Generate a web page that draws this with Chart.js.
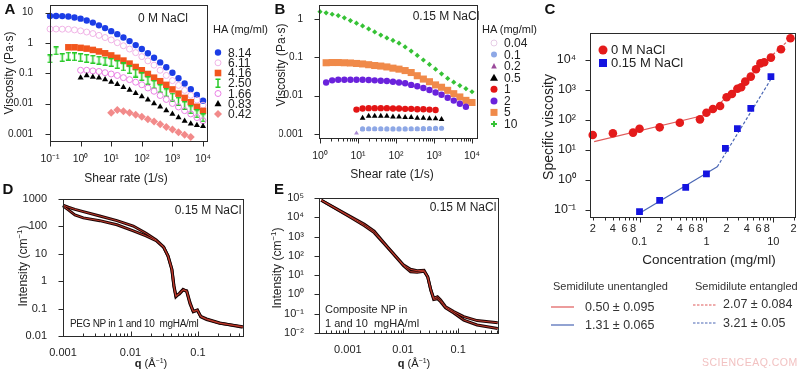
<!DOCTYPE html>
<html>
<head>
<meta charset="utf-8">
<script src="https://cdn.jsdelivr.net/npm/chart.js@4.4.1/dist/chart.umd.min.js"></script>
<style>
  html, body { margin: 0; padding: 0; background: #fff; }
  #page { position: relative; width: 800px; height: 371px; overflow: hidden;
          font-family: "Liberation Sans", Arial, sans-serif; color: #222; }
  #page canvas { position: absolute; left: 0; top: 0; }
  #page svg { position: absolute; left: 0; top: 0; }
  .t { position: absolute; white-space: nowrap; transform: translate(-50%, -50%); }
  .l { position: absolute; white-space: nowrap; transform: translate(0, -50%); }
  .v { position: absolute; white-space: nowrap; transform: translate(-50%, -50%) rotate(-90deg); }
  .lab { font-weight: bold; font-size: 15px; color: #111; }
  .f12 { font-size: 12px; }
  .leg { font-size: 12px; }
  .note { font-size: 11px; color: #333; }
</style>
</head>
<body>
<div id="page">
  <canvas id="chartA" width="800" height="371"></canvas>
  <canvas id="chartB" width="800" height="371"></canvas>
  <canvas id="chartC" width="800" height="371"></canvas>
  <canvas id="chartD" width="800" height="371"></canvas>
  <canvas id="chartE" width="800" height="371"></canvas>

  <svg width="800" height="371">
    <!-- legend A -->
    <circle cx="218" cy="52.5" r="3.2" fill="#1b3de6"/>
    <circle cx="218" cy="62.8" r="3" fill="#fff" stroke="#f0b4e6"/>
    <rect x="214.7" y="69.7" width="6.6" height="6.6" fill="#f2561d"/>
    <path d="M215.5 79.3H220.5M218 79.3V87.3M215.5 87.3H220.5" stroke="#27c927" stroke-width="1.5" fill="none"/>
    <circle cx="218" cy="93.5" r="3" fill="#fff" stroke="#ea80e4"/>
    <polygon points="218,100 221.5,106.3 214.5,106.3" fill="#000"/>
    <polygon points="218,110 222,114 218,118 214,114" fill="#f28a8a"/>
    <!-- legend B -->
    <circle cx="494" cy="43" r="3" fill="#fff" stroke="#e6cde6"/>
    <circle cx="494" cy="54.6" r="3" fill="#8ea8e6"/>
    <polygon points="494,63 496.8,68.5 491.2,68.5" fill="#9b4a9b"/>
    <polygon points="494,73.7 498,80.7 490,80.7" fill="#000"/>
    <circle cx="494" cy="89.3" r="3.5" fill="#e31515"/>
    <circle cx="494" cy="100.9" r="3.5" fill="#6a22dc"/>
    <rect x="490.5" y="108.9" width="7" height="7" fill="#f08a4a"/>
    <path d="M491 124H497M494 121V127" stroke="#36c236" stroke-width="2" fill="none"/>
    <!-- legend C -->
    <circle cx="603" cy="50" r="4.5" fill="#e41b1b"/>
    <rect x="599" y="59" width="8" height="8" fill="#1414e0"/>
    <!-- slopes legend -->
    <line x1="551" y1="307" x2="574" y2="307" stroke="#e05a5a" stroke-width="1.2"/>
    <line x1="551" y1="325" x2="574" y2="325" stroke="#4a66b4" stroke-width="1.2"/>
    <line x1="693" y1="305" x2="717" y2="305" stroke="#e05a5a" stroke-width="1.2" stroke-dasharray="2.5,1.5"/>
    <line x1="693" y1="323" x2="717" y2="323" stroke="#4a66b4" stroke-width="1.2" stroke-dasharray="2.5,1.5"/>
  </svg>

  <div class="t lab" style="left:10px;top:8px">A</div>
  <div class="t lab" style="left:280px;top:8px">B</div>
  <div class="t lab" style="left:550px;top:8px">C</div>
  <div class="t lab" style="left:8px;top:188px">D</div>
  <div class="t lab" style="left:279px;top:188px">E</div>

  <div class="v f12" style="left:9px;top:73px">Viscosity (Pa·s)</div>
  <div class="t f12" style="left:126px;top:178px">Shear rate (1/s)</div>
  <div class="t f12" style="left:163px;top:18px">0 M NaCl</div>
  <div class="l" style="left:213px;top:29px;font-size:11px">HA (mg/ml)</div>
  <div class="l leg" style="left:228px;top:52.5px">8.14</div>
  <div class="l leg" style="left:228px;top:62.8px">6.11</div>
  <div class="l leg" style="left:228px;top:73px">4.16</div>
  <div class="l leg" style="left:228px;top:83.3px">2.50</div>
  <div class="l leg" style="left:228px;top:93.5px">1.66</div>
  <div class="l leg" style="left:228px;top:103.8px">0.83</div>
  <div class="l leg" style="left:228px;top:114px">0.42</div>

  <div class="v f12" style="left:281px;top:65px">Viscosity (Pa·s)</div>
  <div class="t f12" style="left:392px;top:174px">Shear rate (1/s)</div>
  <div class="t f12" style="left:446px;top:16px">0.15 M NaCl</div>
  <div class="l" style="left:482px;top:29px;font-size:11px">HA (mg/ml)</div>
  <div class="l leg" style="left:504px;top:43px">0.04</div>
  <div class="l leg" style="left:504px;top:54.6px">0.1</div>
  <div class="l leg" style="left:504px;top:66.1px">0.2</div>
  <div class="l leg" style="left:504px;top:77.7px">0.5</div>
  <div class="l leg" style="left:504px;top:89.3px">1</div>
  <div class="l leg" style="left:504px;top:100.9px">2</div>
  <div class="l leg" style="left:504px;top:112.4px">5</div>
  <div class="l leg" style="left:504px;top:124px">10</div>

  <div class="v" style="left:548px;top:127px;font-size:14px">Specific viscosity</div>
  <div class="t" style="left:709px;top:259px;font-size:13.5px">Concentration (mg/ml)</div>
  <div class="l" style="left:611px;top:49px;font-size:13px">0 M NaCl</div>
  <div class="l" style="left:611px;top:62px;font-size:13px">0.15 M NaCl</div>

  <div class="l note" style="left:553px;top:286px">Semidilute unentangled</div>
  <div class="l note" style="left:695px;top:286px">Semidilute entangled</div>
  <div class="l note" style="left:585px;top:307px;font-size:12.5px">0.50 ± 0.095</div>
  <div class="l note" style="left:585px;top:325px;font-size:12.5px">1.31 ± 0.065</div>
  <div class="l note" style="left:723px;top:304px;font-size:12.5px">2.07 ± 0.084</div>
  <div class="l note" style="left:723px;top:323px;font-size:12.5px">3.21 ± 0.05</div>
  <div class="l" style="left:702px;top:362px;font-size:10.5px;color:#f2c2c2;letter-spacing:0.5px">SCIENCEAQ.COM</div>

  <div class="v f12" style="left:22px;top:266px">Intensity (cm<sup style="font-size:8px">−1</sup>)</div>
  <div class="t f12" style="left:208px;top:210px">0.15 M NaCl</div>
  <div class="l" style="left:70px;top:323px;font-size:10px;letter-spacing:-0.3px">PEG NP in 1 and 10&nbsp; mgHA/ml</div>
  <div class="t" style="left:151px;top:363px;font-size:11px"><b>q</b> (Å<sup style="font-size:7px">−1</sup>)</div>

  <div class="v f12" style="left:276px;top:268px">Intensity (cm<sup style="font-size:8px">−1</sup>)</div>
  <div class="t f12" style="left:463px;top:207px">0.15 M NaCl</div>
  <div class="l" style="left:325px;top:309px;font-size:11px">Composite NP in</div>
  <div class="l" style="left:325px;top:323px;font-size:11px">1 and 10&nbsp; mgHA/ml</div>
  <div class="t" style="left:414px;top:363px;font-size:11px"><b>q</b> (Å<sup style="font-size:7px">−1</sup>)</div>
</div>

<script>
// ---- A: 0 M NaCl viscosity vs shear rate
const rateA = [0.1, 0.158, 0.251, 0.398, 0.631, 1, 1.58, 2.51, 3.98, 6.31, 10, 15.8, 25.1, 39.8, 63.1,
  100, 158, 251, 398, 631, 1000, 1580, 2510, 3980, 6310, 10000];
const viscA814 = [7.76, 7.76, 7.67, 7.41, 6.92, 6.31, 5.5, 4.68, 3.8, 3.09, 2.45, 1.95, 1.51, 1.15, 0.85,
  0.63, 0.457, 0.324, 0.229, 0.158, 0.105, 0.069, 0.046, 0.03, 0.0195, 0.0126];
const viscA611 = [2.88, 2.88, 2.85, 2.82, 2.69, 2.51, 2.29, 2.04, 1.78, 1.51, 1.26, 1.02, 0.81, 0.63, 0.48,
  0.355, 0.257, 0.186, 0.126, 0.085, 0.0575, 0.04, 0.0275, 0.019, 0.0132, 0.0089];
const viscA416 = [null, null, null, 0.72, 0.72, 0.69, 0.65, 0.59, 0.525, 0.457, 0.389, 0.324, 0.263, 0.209,
  0.162, 0.126, 0.095, 0.072, 0.055, 0.0417, 0.0295, 0.0214, 0.0155, 0.0112, 0.0079, 0.0058];
const viscA250 = [0.3, 0.55, 0.33, 0.37, 0.35, 0.33, 0.31, 0.29, 0.27, 0.25, 0.229, 0.195, 0.162, 0.132,
  0.102, 0.078, 0.0575, 0.0427, 0.0316, 0.0229, 0.0166, 0.012, 0.0087, 0.0063, 0.0046, 0.0034];
const viscA166 = [null, null, null, null, null, 0.126, 0.126, 0.12, 0.115, 0.105, 0.095, 0.085, 0.072, 0.062,
  0.051, 0.042, 0.033, 0.0257, 0.0186, 0.0138, 0.0102, 0.0078, 0.0059, 0.0046, 0.0035, 0.00275];
const viscA083 = [null, null, null, null, null, 0.071, 0.085, 0.076, 0.071, 0.063, 0.052, 0.044, 0.035, 0.028,
  0.022, 0.0174, 0.0135, 0.0102, 0.0079, 0.006, 0.0046, 0.0035, 0.0027, 0.0022, 0.00195, 0.0018];
const viscA042 = [null, null, null, null, null, null, null, null, null, null, 0.005, 0.0062, 0.0056, 0.005,
  0.0043, 0.0037, 0.0031, 0.0026, 0.0021, 0.0017, 0.0014, 0.00115, 0.00095, 0.0008, null, null];

// ---- B: 0.15 M NaCl viscosity vs shear rate
const rateB = [1, 1.45, 2.09, 3.02, 4.37, 6.31, 9.12, 13.2, 19.1, 27.5, 39.8, 57.5, 83.2, 120, 174,
  251, 363, 525, 759, 1100, 1580, 2290, 3310, 4790, 6920, 10000];
const viscB10 = [1.55, 1.45, 1.33, 1.23, 1.07, 0.91, 0.78, 0.66, 0.55, 0.46, 0.38, 0.32, 0.275, 0.234, 0.186,
  0.145, 0.112, 0.085, 0.065, 0.049, 0.037, 0.028, 0.0224, 0.0182, 0.0151, 0.0126];
const viscB5 = [null, 0.072, 0.073, 0.073, 0.072, 0.071, 0.069, 0.067, 0.064, 0.061, 0.059, 0.056, 0.052, 0.049,
  0.045, 0.04, 0.033, 0.027, 0.023, 0.019, 0.0165, 0.0137, 0.0112, 0.0092, 0.0075, 0.0066];
const viscB2 = [null, 0.022, 0.025, 0.026, 0.026, 0.026, 0.026, 0.026, 0.0255, 0.025, 0.0245, 0.024, 0.023, 0.022,
  0.021, 0.019, 0.0175, 0.0158, 0.014, 0.012, 0.0105, 0.0088, 0.0074, 0.0061, 0.0051, null];
const viscB1 = [null, null, null, null, null, null, 0.0043, 0.0046, 0.0047, 0.0047, 0.0047, 0.0047, 0.0046, 0.0046,
  0.0045, 0.0045, 0.0044, 0.0044, 0.0043, 0.0042, null, null, null, null, null, null];
const viscB05 = [null, null, null, null, null, null, null, 0.0026, 0.0029, 0.0029, 0.0029, 0.0029, 0.0028, 0.0028,
  0.0027, 0.0027, 0.0026, 0.0026, 0.0025, 0.0025, 0.0024, null, null, null, null, null];
const viscB02 = [null, null, null, null, null, null, 0.00104, 0.0013, 0.0013, 0.0013, 0.0013, 0.0013, 0.0013, 0.0013,
  0.0013, 0.0013, 0.0013, 0.0013, 0.00132, 0.00133, null, null, null, null, null, null];
const viscB01 = [null, null, null, null, null, null, null, 0.00135, 0.00136, 0.00136, 0.00136, 0.00135, 0.00135, 0.00135,
  0.00135, 0.00136, 0.00136, 0.00137, 0.00138, 0.00139, 0.0014, null, null, null, null, null];

// ---- C: specific viscosity vs concentration
const concRed = [0.02, 0.04, 0.08, 0.1, 0.2, 0.4, 0.8, 1, 1.25, 1.6, 2, 2.4, 2.9, 3.3, 3.8, 4.6, 5.5, 6.4, 7.3, 9.2, 13, 18];
const specRed = [31.6, 36, 38, 51, 57, 81, 105, 174, 233, 292, 572, 738, 1100, 1230, 1900, 2800, 4900, 7700, 8400, 12000, 22700, 53000];
const concBlue = [0.1, 0.2, 0.49, 1, 1.92, 2.9, 4.6, 9.2];
const specBlue = [0.088, 0.21, 0.57, 1.6, 11.4, 52, 244, 2800];
const fitRedUnent = [[0.021, 19], [1, 150]];
const fitRedEnt = [[1, 140], [18.5, 55000]];
const fitBlueUnent = [[0.1, 0.078], [1.45, 2.75]];
const fitBlueEnt = [[1.45, 2.75], [9.2, 2300]];

// ---- D: PEG NP scattering
const qD = [0.001, 0.0012, 0.0015, 0.002, 0.0035, 0.0063, 0.011, 0.017, 0.024, 0.031, 0.036, 0.041, 0.044,
  0.047, 0.053, 0.06, 0.068, 0.076, 0.085, 0.098, 0.11, 0.134, 0.21, 0.46];
const intD1 = [600, 500, 420, 345, 240, 162, 103, 56, 32, 18, 8, 2.6, 0.63, 0.27, 0.36, 0.5, 0.42, 0.15, 0.077,
  0.09, 0.05, 0.04, 0.029, 0.022];
const intD2 = [560, 400, 262, 205, 162, 115, 69, 45, 30, 17, 8.5, 2.8, 0.7, 0.3, 0.34, 0.48, 0.45, 0.17, 0.08,
  0.085, 0.052, 0.042, 0.03, 0.021];

// ---- E: composite NP scattering
const qE = [0.00033, 0.001, 0.002, 0.003, 0.0052, 0.0103, 0.0137, 0.018, 0.024, 0.028, 0.032, 0.036, 0.042,
  0.048, 0.059, 0.083, 0.126, 0.22, 0.52];
const intE1 = [77000, 12900, 4300, 1900, 300, 33, 20, 17, 18, 8.3, 1.7, 0.63, 0.76, 0.51, 0.23, 0.13, 0.07, 0.044, 0.034];
const intE2 = [77000, 12000, 3600, 1600, 280, 30, 15, 14, 16, 8, 1.6, 0.55, 0.6, 0.42, 0.2, 0.11, 0.047, 0.026, 0.017];

Chart.defaults.font.family = "'Liberation Sans', Arial, sans-serif";
Chart.defaults.font.size = 11;
Chart.defaults.color = '#222';

const sup = { '-3': '⁻³', '-2': '⁻²', '-1': '⁻¹', '0': '⁰', '1': '¹', '2': '²', '3': '³', '4': '⁴', '5': '⁵' };
const isDecade = v => Math.abs(Math.log10(v) - Math.round(Math.log10(v))) < 1e-6;
const powLabel = v => isDecade(v) ? '10' + sup[Math.round(Math.log10(v))] : '';
const decLabel = v => isDecade(v) ? String(Number(v.toPrecision(3))) : '';
const concLabel = v => {
  if (isDecade(v)) return ['', String(Number(v.toPrecision(3)))];
  const m = Math.round(v / Math.pow(10, Math.floor(Math.log10(v) + 1e-9)));
  return [2, 4, 6, 8].includes(m) ? String(m) : '';
};

function logTicks(min, max) {
  const out = [];
  for (let e = Math.floor(Math.log10(min)); e <= Math.ceil(Math.log10(max)); e++) {
    for (let m = 1; m < 10; m++) {
      const v = Number((m * Math.pow(10, e)).toPrecision(6));
      if (v >= min * 0.9999 && v <= max * 1.0001) out.push({ value: v });
    }
  }
  return out;
}

function logAxis(min, max, size, pad, cb, fontSize) {
  return {
    type: 'logarithmic', min: min, max: max,
    grid: { display: false }, border: { display: false },
    ticks: { autoSkip: false, maxRotation: 0, padding: pad, callback: cb, font: { size: fontSize || 11 } },
    afterBuildTicks: s => { s.ticks = logTicks(min, max); },
    afterFit: s => {
      if (s.isHorizontal()) s.height = size; else s.width = size;
      s.paddingTop = 0; s.paddingBottom = 0; s.paddingLeft = 0; s.paddingRight = 0;
    }
  };
}

// frame + tick marks drawn from the scales
const framePlugin = {
  id: 'frame',
  afterDraw(chart, args, opts) {
    const ctx = chart.ctx, a = chart.chartArea;
    ctx.save();
    ctx.strokeStyle = '#2a2a2a';
    ctx.lineWidth = 1;
    const L = Math.round(a.left) + 0.5, T = Math.round(a.top) + 0.5;
    const R = Math.round(a.right) + 0.5, B = Math.round(a.bottom) + 0.5;
    ctx.strokeRect(L, T, R - L, B - T);
    const marks = (scale, horiz, inward, minor) => {
      scale.ticks.forEach(t => {
        const major = isDecade(t.value);
        if (!major && !minor) return;
        const len = major ? 5 : 3;
        const p = Math.round(scale.getPixelForValue(t.value)) + 0.5;
        ctx.beginPath();
        if (horiz) { ctx.moveTo(p, B); ctx.lineTo(p, inward ? B - len : B + len); }
        else { ctx.moveTo(L, p); ctx.lineTo(inward ? L + len : L - len, p); }
        ctx.stroke();
      });
    };
    marks(chart.scales.x, true, opts.xIn, opts.xMinor);
    marks(chart.scales.y, false, false, false);
    ctx.restore();
  }
};
Chart.register(framePlugin);

function options(plot, yW, xH, scales, frame) {
  return {
    responsive: false, animation: false, events: [],
    layout: { padding: { left: plot.l - yW, top: plot.t, right: 800 - plot.r, bottom: 371 - plot.b - xH } },
    plugins: { legend: { display: false }, tooltip: { enabled: false }, frame: frame },
    scales: scales
  };
}

function pts(xs, ys) {
  return xs.map((x, i) => ({ x: x, y: ys[i] })).filter(p => p.y != null);
}

function marks(xs, ys, style, r, fill, stroke) {
  return {
    data: pts(xs, ys), showLine: false, clip: 8,
    pointStyle: style, pointRadius: r,
    backgroundColor: fill, borderColor: stroke || fill, borderWidth: stroke ? 1 : 0
  };
}

function line(xy, color, dash, width) {
  return {
    data: xy.map(p => ({ x: p[0], y: p[1] })), showLine: true, pointRadius: 0,
    borderColor: color, borderWidth: width || 1.2, borderDash: dash || [], clip: 2
  };
}

function curve(xs, ys, color, width) {
  return {
    data: pts(xs, ys), showLine: true, pointRadius: 0,
    borderColor: color, borderWidth: width, clip: 2
  };
}

const ibeam = document.createElement('canvas');
ibeam.width = 7; ibeam.height = 9;
const ic = ibeam.getContext('2d');
ic.strokeStyle = '#27c927'; ic.lineWidth = 1.5;
ic.beginPath();
ic.moveTo(3.5, 0.75); ic.lineTo(3.5, 8.25);
ic.moveTo(1, 0.75); ic.lineTo(6, 0.75);
ic.moveTo(1, 8.25); ic.lineTo(6, 8.25);
ic.stroke();

// A
const plotA = { l: 50, t: 4, r: 207, b: 141 };
new Chart(document.getElementById('chartA'), {
  type: 'scatter',
  data: { datasets: [
    marks(rateA, viscA042, 'rectRot', 4, '#f28a8a'),
    marks(rateA, viscA083, 'triangle', 3.5, '#000'),
    marks(rateA, viscA166, 'circle', 3, 'rgba(255,255,255,0)', '#ea80e4'),
    marks(rateA, viscA250, ibeam, 3, '#27c927'),
    marks(rateA, viscA416, 'rect', 4.6, '#f2561d'),
    marks(rateA, viscA611, 'circle', 3, 'rgba(255,255,255,0)', '#f0b4e6'),
    marks(rateA, viscA814, 'circle', 3.2, '#1b3de6')
  ] },
  options: options(plotA, 45, 40, {
    x: logAxis(0.1, 13500, 40, 4, powLabel, 10.5),
    y: logAxis(0.00059, 17.8, 45, 9, decLabel, 10)
  }, { xIn: false, xMinor: false })
});

// B
const plotB = { l: 319, t: 5, r: 477, b: 138 };
new Chart(document.getElementById('chartB'), {
  type: 'scatter',
  data: { datasets: [
    marks(rateB, viscB01, 'circle', 2.6, '#8ea8e6'),
    marks(rateB, viscB02, 'triangle', 2.8, '#a98ad0'),
    marks(rateB, viscB05, 'triangle', 3.3, '#000'),
    marks(rateB, viscB1, 'circle', 3.2, '#e31515'),
    marks(rateB, viscB2, 'circle', 3.2, '#6a22dc'),
    marks(rateB, viscB5, 'rect', 5, '#f08a4a'),
    marks(rateB, viscB10, 'rectRot', 2.6, '#36c236')
  ] },
  options: options(plotB, 40, 40, {
    x: logAxis(0.941, 13550, 40, 4, powLabel, 10.5),
    y: logAxis(0.00078, 2.32, 40, 8, decLabel, 10)
  }, { xIn: false, xMinor: true })
});

// C
const plotC = { l: 590, t: 33, r: 797, b: 217 };
new Chart(document.getElementById('chartC'), {
  type: 'scatter',
  data: { datasets: [
    marks(concRed, specRed, 'circle', 4.3, '#e41b1b'),
    marks(concBlue, specBlue, 'rect', 4.8, '#1414e0'),
    line(fitRedUnent, '#e05a5a'),
    line(fitRedEnt, '#e05a5a', [3, 2]),
    line(fitBlueUnent, '#4a66b4'),
    line(fitBlueEnt, '#4a66b4', [3, 2])
  ] },
  options: options(plotC, 45, 40, {
    x: logAxis(0.0182, 21.2, 40, -3, concLabel),
    y: logAxis(0.0585, 79400, 45, 6, powLabel, 12.5)
  }, { xIn: false, xMinor: true })
});

// D
const plotD = { l: 63, t: 199, r: 243, b: 336 };
new Chart(document.getElementById('chartD'), {
  type: 'scatter',
  data: { datasets: [
    curve(qD, intD1, '#c0392b', 1),
    curve(qD, intD2, '#c0392b', 1),
    curve(qD, intD1, '#1e0606', 3),
    curve(qD, intD2, '#1e0606', 3)
  ] },
  options: options(plotD, 50, 25, {
    x: logAxis(0.001, 0.464, 25, 2, decLabel),
    y: logAxis(0.01, 1000, 50, 8, decLabel)
  }, { xIn: true, xMinor: true })
});

// E
const plotE = { l: 319, t: 198, r: 498, b: 333 };
new Chart(document.getElementById('chartE'), {
  type: 'scatter',
  data: { datasets: [
    curve(qE, intE1, '#c0392b', 1),
    curve(qE, intE2, '#c0392b', 1),
    curve(qE, intE1, '#1e0606', 3),
    curve(qE, intE2, '#1e0606', 3)
  ] },
  options: options(plotE, 45, 25, {
    x: logAxis(0.000313, 0.526, 25, 2, decLabel),
    y: logAxis(0.01, 100000, 45, 7, powLabel)
  }, { xIn: true, xMinor: true })
});
</script>
</body>
</html>
